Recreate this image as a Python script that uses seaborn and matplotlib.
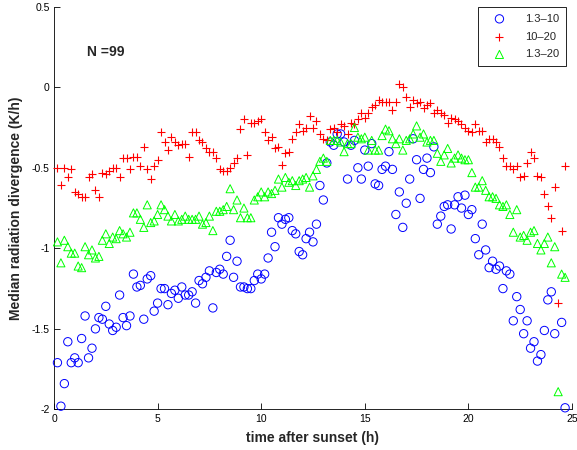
import numpy as np
import pandas as pd
import matplotlib
matplotlib.use("Agg")
import matplotlib.pyplot as plt
import seaborn as sns

# time after sunset (h), 10-minute steps
hours = np.arange(1, 149) / 6.0

# median radiation divergence (K/h) for the 1.3-10 m layer
div_13_10 = [
    -1.71, -1.98, -1.84, -1.58, -1.71, -1.68, -1.71, -1.56, -1.42, -1.68,
    -1.62, -1.50, -1.43, -1.44, -1.36, -1.47, -1.51, -1.49, -1.29, -1.43,
    -1.48, -1.42, -1.16, -1.24, -1.23, -1.44, -1.19, -1.17, -1.39, -1.34,
    -1.25, -1.25, -1.35, -1.28, -1.26, -1.31, -1.24, -1.29, -1.29, -1.27,
    -1.34, -1.20, -1.22, -1.18, -1.14, -1.37, -1.15, -1.13, -1.16, -1.05,
    -0.95, -1.18, -1.08, -1.24, -1.24, -1.25, -1.25, -1.20, -1.16, -1.19,
    -1.16, -1.06, -0.90, -0.99, -0.81, -0.85, -0.82, -0.81, -0.89, -0.91,
    -1.02, -1.04, -0.94, -0.90, -0.96, -0.85, -0.61, -0.70, -0.47, -0.34,
    -0.36, -0.29, -0.29, -0.34, -0.57, -0.36, -0.33, -0.50, -0.57, -0.39,
    -0.49, -0.35, -0.60, -0.61, -0.51, -0.49, -0.40, -0.51, -0.79, -0.65,
    -0.87, -0.72, -0.57, -0.32, -0.45, -0.69, -0.51, -0.44, -0.53, -0.37,
    -0.85, -0.80, -0.74, -0.73, -0.88, -0.73, -0.68, -0.75, -0.67, -0.79,
    -0.76, -0.94, -1.04, -0.85, -1.01, -1.12, -1.08, -1.13, -1.11, -1.25,
    -1.14, -1.16, -1.45, -1.30, -1.38, -1.53, -1.45, -1.62, -1.58, -1.70,
    -1.66, -1.51, -1.32, -1.27, -1.53, np.nan, -1.46, -1.99,
]

# 10-20 m layer
div_10_20 = [
    -0.50, -0.61, -0.50, -0.56, -0.51, -0.65, -0.66, -0.68, -0.68, -0.56,
    -0.54, -0.64, -0.68, -0.53, -0.54, -0.52, -0.50, -0.50, -0.56, -0.44,
    -0.44, -0.51, -0.43, -0.43, -0.49, -0.37, -0.51, -0.57, -0.49, -0.45,
    -0.28, -0.34, -0.39, -0.31, -0.34, -0.36, -0.35, -0.35, -0.43, -0.28,
    -0.28, -0.33, -0.34, -0.38, -0.40, -0.40, -0.44, -0.51, -0.52, -0.52,
    -0.50, -0.47, -0.44, -0.26, -0.20, -0.42, -0.22, -0.22, -0.21, -0.20,
    -0.28, -0.33, -0.31, -0.38, -0.37, -0.48, -0.41, -0.40, -0.32, -0.28,
    -0.23, -0.27, -0.25, -0.18, -0.25, -0.21, -0.29, -0.32, -0.33, -0.26,
    -0.25, -0.28, -0.23, -0.24, -0.29, -0.22, -0.23, -0.20, -0.16, -0.19,
    -0.16, -0.12, -0.11, -0.08, -0.09, -0.09, -0.09, -0.14, -0.09, 0.02,
    0.00, -0.06, -0.12, -0.08, -0.10, -0.09, -0.13, -0.11, -0.10, -0.16,
    -0.14, -0.16, -0.17, -0.22, -0.19, -0.20, -0.21, -0.23, -0.25, -0.27,
    -0.28, -0.23, -0.27, -0.27, -0.34, -0.32, -0.32, -0.34, -0.37, -0.44,
    -0.49, -0.49, -0.51, -0.49, -0.56, -0.55, -0.47, -0.40, -0.44, -0.55,
    -0.56, -0.66, -0.74, -0.81, -0.62, -1.34, -0.89, -0.49,
]

# 1.3-20 m layer
div_13_20 = [
    -0.96, -1.09, -0.95, -0.99, -1.03, -1.03, -1.11, -1.12, -0.99, -1.04,
    -1.01, -1.06, -1.05, -0.95, -0.91, -0.97, -0.93, -0.94, -0.89, -0.91,
    -0.93, -0.90, -0.78, -0.78, -0.82, -0.87, -0.73, -0.84, -0.83, -0.79,
    -0.73, -0.76, -0.80, -0.83, -0.79, -0.83, -0.82, -0.80, -0.82, -0.82,
    -0.82, -0.80, -0.85, -0.84, -0.80, -0.89, -0.77, -0.77, -0.76, -0.74,
    -0.63, -0.76, -0.70, -0.81, -0.75, -0.81, -0.81, -0.70, -0.68, -0.65,
    -0.68, -0.65, -0.66, -0.64, -0.57, -0.62, -0.56, -0.59, -0.58, -0.61,
    -0.58, -0.57, -0.56, -0.62, -0.55, -0.51, -0.46, -0.44, -0.46, -0.33,
    -0.33, -0.33, -0.34, -0.40, -0.35, -0.35, -0.25, -0.31, -0.32, -0.31,
    -0.39, -0.33, -0.39, -0.39, -0.30, -0.26, -0.27, -0.32, -0.35, -0.32,
    -0.39, -0.33, -0.32, -0.29, -0.24, -0.31, -0.29, -0.34, -0.33, -0.33,
    -0.41, -0.46, -0.42, -0.38, -0.47, -0.44, -0.42, -0.44, -0.45, -0.45,
    -0.53, -0.62, -0.62, -0.58, -0.64, -0.68, -0.68, -0.69, -0.73, -0.74,
    -0.73, -0.79, -0.90, -0.76, -0.93, -0.92, -0.95, -0.90, -0.89, -0.97,
    -1.01, -0.97, -0.93, -1.09, -0.99, -1.89, -1.16, -1.18,
]

labels = ["1.3\u201310", "10\u201320", "1.3\u201320"]
xticks = [0, 5, 10, 15, 20, 25]
yticks = [-2, -1.5, -1, -0.5, 0, 0.5]

sns.set_style("white")
plt.rcParams["font.family"] = ["Liberation Sans", "DejaVu Sans"]
plt.rcParams["axes.unicode_minus"] = False

fig = plt.figure(figsize=(5.77, 4.50), dpi=100)
ax = fig.add_axes([54 / 577, 1 - 409.4 / 450, (572 - 54) / 577, (409.4 - 6.7) / 450])

df = pd.DataFrame({"t": hours, "a": div_13_10, "b": div_10_20, "c": div_13_20})

sns.scatterplot(data=df, x="t", y="a", ax=ax, marker="o", s=36,
                facecolor="none", edgecolor=(0, 0, 1), linewidth=0.7,
                clip_on=False, label=labels[0], zorder=3)
sns.scatterplot(data=df, x="t", y="b", ax=ax, marker="+", s=38,
                color=(1, 0, 0), linewidth=0.8, clip_on=False,
                label=labels[1], zorder=3)
sns.scatterplot(data=df, x="t", y="c", ax=ax, marker="^", s=34,
                facecolor="none", edgecolor=(0, 1, 0), linewidth=0.7,
                clip_on=False, label=labels[2], zorder=3)

ax.set_xlim(0, 25)
ax.set_ylim(-2, 0.5)
ax.set_xticks(xticks)
ax.set_yticks(yticks)
ax.set_xticklabels([str(v) for v in xticks])
ax.set_yticklabels(["-2", "-1.5", "-1", "-0.5", "0", "0.5"])
ax.tick_params(direction="in", length=4, width=0.6, labelsize=7.5,
               colors="black", bottom=True, left=True, pad=3)
for side in ["top", "right"]:
    ax.spines[side].set_visible(False)
for side in ["left", "bottom"]:
    ax.spines[side].set_color("black")
    ax.spines[side].set_linewidth(0.6)

ax.set_xlabel("time after sunset (h)", fontsize=10, fontweight="bold", labelpad=5)
ax.set_ylabel("Median radiation divergence (K/h)", fontsize=10,
              fontweight="bold", labelpad=6)

ax.text(1.6, 0.22, "N =99", fontsize=10, fontweight="bold",
        ha="left", va="center")

leg = ax.legend(loc="upper right", bbox_to_anchor=(0.988, 0.999), fontsize=8,
                frameon=True, fancybox=False, framealpha=1, edgecolor="black",
                handlelength=2.6, handletextpad=1.0, borderpad=0.6,
                labelspacing=0.7, borderaxespad=0.0)
leg.get_frame().set_linewidth(0.6)

fig.savefig("out.png", dpi=100)
